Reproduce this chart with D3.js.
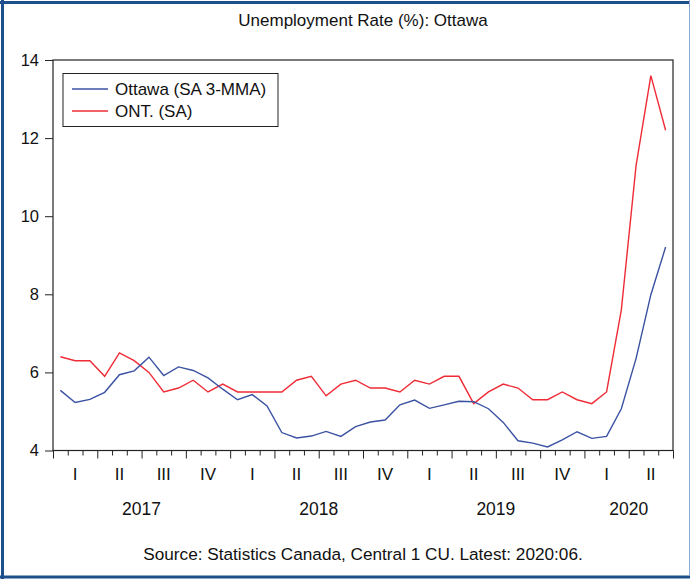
<!DOCTYPE html>
<html>
<head>
<meta charset="utf-8">
<script src="https://cdn.jsdelivr.net/npm/d3@7"></script>
<style>
  html, body { margin: 0; padding: 0; background: #fff; }
  svg { display: block; }
  text { font-family: "Liberation Sans", Arial, sans-serif; fill: #111; }
</style>
</head>
<body>
<svg id="chart" width="691" height="580"></svg>
<script>
const title = "Unemployment Rate (%): Ottawa";
const source = "Source: Statistics Canada, Central 1 CU. Latest: 2020:06.";
const months = [
  "2017:01","2017:02","2017:03","2017:04","2017:05","2017:06","2017:07","2017:08","2017:09","2017:10","2017:11","2017:12",
  "2018:01","2018:02","2018:03","2018:04","2018:05","2018:06","2018:07","2018:08","2018:09","2018:10","2018:11","2018:12",
  "2019:01","2019:02","2019:03","2019:04","2019:05","2019:06","2019:07","2019:08","2019:09","2019:10","2019:11","2019:12",
  "2020:01","2020:02","2020:03","2020:04","2020:05","2020:06"
];
const ottawa = [5.54,5.23,5.31,5.49,5.94,6.04,6.39,5.92,6.14,6.05,5.86,5.57,
                5.30,5.43,5.14,4.46,4.32,4.37,4.49,4.36,4.61,4.73,4.78,5.17,
                5.29,5.08,5.17,5.26,5.25,5.07,4.72,4.25,4.19,4.09,4.27,4.48,
                4.31,4.36,5.07,6.36,7.99,9.21];
const ontario = [6.4,6.3,6.3,5.9,6.5,6.3,6.0,5.5,5.6,5.8,5.5,5.7,
                 5.5,5.5,5.5,5.5,5.8,5.9,5.4,5.7,5.8,5.6,5.6,5.5,
                 5.8,5.7,5.9,5.9,5.2,5.5,5.7,5.6,5.3,5.3,5.5,5.3,
                 5.2,5.5,7.6,11.3,13.6,12.2];
const seriesNames = ["Ottawa (SA 3-MMA)", "ONT. (SA)"];
const seriesColors = ["#3b52a3", "#ee2b36"];
const yTicks = [4, 6, 8, 10, 12, 14];
const quarterLabels = ["I","II","III","IV"];
const yearLabels = ["2017","2018","2019","2020"];

const svg = d3.select("#chart");
const L = 53, R = 673, T = 60, B = 450.5;

// outer frame
svg.append("line").attr("x1",0).attr("x2",690).attr("y1",2.5).attr("y2",2.5).attr("stroke","#1d4f8b").attr("stroke-width",3);
svg.append("line").attr("x1",2.5).attr("x2",2.5).attr("y1",0).attr("y2",579).attr("stroke","#1d4f8b").attr("stroke-width",3);
svg.append("line").attr("x1",0).attr("x2",690).attr("y1",577).attr("y2",577).attr("stroke","#1d4f8b").attr("stroke-width",3);
svg.append("line").attr("x1",689.5).attr("x2",689.5).attr("y1",0).attr("y2",576).attr("stroke","#8aaad6").attr("stroke-width",1);

const x = d3.scaleLinear().domain([0, months.length]).range([L, R]);
const y = d3.scaleLinear().domain([4, 14]).range([B, T]);

// title
svg.append("text").attr("x", (L+R)/2).attr("y", 26).attr("text-anchor","middle")
  .style("font-size","17px").text(title);

// y axis
const yAxis = d3.axisLeft(y).tickValues(yTicks).tickSize(8).tickPadding(6).tickFormat(d3.format("d"));
const gy = svg.append("g").attr("transform",`translate(${L},0)`).call(yAxis);
gy.select(".domain").remove();
gy.selectAll("line").attr("stroke","#222");
gy.selectAll("text").style("font-size","16.5px").style("font-family","Liberation Sans, Arial, sans-serif").attr("fill","#111");

// x axis minor/major ticks
const allTicks = d3.range(0, months.length + 1);
const gxMinor = svg.append("g").attr("transform",`translate(0,${B})`)
  .call(d3.axisBottom(x).tickValues(allTicks.filter(d => d % 3 !== 0)).tickSize(5).tickFormat(""));
gxMinor.select(".domain").remove();
const gxMajor = svg.append("g").attr("transform",`translate(0,${B})`)
  .call(d3.axisBottom(x).tickValues(allTicks.filter(d => d % 3 === 0)).tickSize(8).tickFormat(""));
gxMajor.select(".domain").remove();
svg.selectAll(".tick line").attr("stroke","#222");

// quarter labels
const nQuarters = months.length / 3;
svg.append("g").selectAll("text").data(d3.range(nQuarters)).join("text")
  .attr("x", q => x(q*3 + 1.5)).attr("y", 480).attr("text-anchor","middle")
  .style("font-size","17px").text(q => quarterLabels[q % 4]);

// year labels
svg.append("g").selectAll("text").data(yearLabels).join("text")
  .attr("x", (yr) => {
    const idx = months.map((m,i)=>[m,i]).filter(([m]) => m.startsWith(yr)).map(([,i])=>i);
    return x((d3.min(idx) + d3.max(idx) + 1) / 2);
  })
  .attr("y", 515).attr("text-anchor","middle").style("font-size","17.5px").text(d => d);

// source
svg.append("text").attr("x", (L+R)/2).attr("y", 560).attr("text-anchor","middle")
  .style("font-size","17.2px").text(source);

// lines
const line = d3.line().x((d,i) => x(i + 0.5)).y(d => y(d));
[ontario, ottawa].forEach((s, k) => {
  const col = k === 0 ? seriesColors[1] : seriesColors[0];
  svg.append("path").datum(s).attr("d", line).attr("fill","none")
    .attr("stroke", col).attr("stroke-width", 1.4).attr("stroke-linejoin","miter");
});

// plot frame
svg.append("rect").attr("x", L).attr("y", T).attr("width", R-L).attr("height", B-T)
  .attr("fill","none").attr("stroke","#222").attr("stroke-width",1.2);

// legend
const lg = svg.append("g");
lg.append("rect").attr("x", 63).attr("y", 73.5).attr("width", 215).attr("height", 53)
  .attr("fill","#fff").attr("stroke","#222").attr("stroke-width",1);
seriesNames.forEach((name, k) => {
  const cy = 89 + k*22;
  lg.append("line").attr("x1",72).attr("x2",108).attr("y1",cy).attr("y2",cy)
    .attr("stroke", seriesColors[k]).attr("stroke-width",1.4);
  lg.append("text").attr("x",115).attr("y",cy+6).style("font-size","17px").text(name);
});
</script>
</body>
</html>
